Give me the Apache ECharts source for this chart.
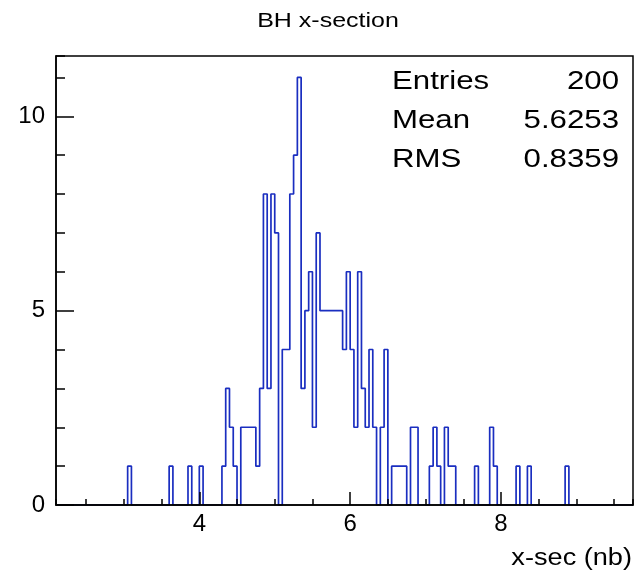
<!DOCTYPE html>
<html><head><meta charset="utf-8">
<script src="https://cdn.jsdelivr.net/npm/echarts@6/dist/echarts.min.js"></script>
<style>html,body{margin:0;padding:0;background:#fff}#c{width:635px;height:572px}</style>
</head><body><div id="c"></div>
<script>
// Histogram definition (ROOT-style TH1): 153 uniform bins of width 0.05 from 2.10 to 9.75
const xMin = 2.10, xMax = 9.75, nBins = 153;
// bin contents, bin 0 .. 152
const counts = [
 0,0,0,0,0,0,0,0,0,0,  0,0,0,0,0,0,0,0,0,1,   // 0-19
 0,0,0,0,0,0,0,0,0,0,  1,0,0,0,0,1,0,0,1,0,   // 20-39
 0,0,0,0,1,3,2,1,0,2,  2,2,2,1,3,8,3,8,7,0,   // 40-59
 4,4,8,9,11,3,5,6,2,7, 5,5,5,5,5,5,4,6,4,2,   // 60-79
 6,3,2,4,2,0,2,4,0,1,  1,1,1,0,2,2,0,0,0,1,   // 80-99
 2,1,0,2,1,1,0,0,0,0,  0,1,0,0,0,2,1,0,0,0,   // 100-119
 0,0,1,0,0,1,0,0,0,0,  0,0,0,0,0,1,0,0,0,0,   // 120-139
 0,0,0,0,0,0,0,0,0,0,  0,0,0                  // 140-152
];
const yMax = 11.55;
const titleText = 'BH x-section';
const xAxisTitle = 'x-sec (nb)';
const statNames = ['Entries', 'Mean', 'RMS'];
const statValues = ['200', '5.6253', '0.8359'];

const binW = (xMax - xMin) / nBins;
const pts = counts.map((c, i) => [xMin + i * binW, c]);
pts.push([xMax, counts[nBins - 1]]);

const FONT = 'Liberation Sans, Arial, Helvetica, sans-serif';
const chart = echarts.init(document.getElementById('c'), null, {renderer: 'canvas'});

const statGraphics = [];
statNames.forEach((n, i) => {
  const y = 82 + i * 39;
  statGraphics.push({type: 'text', z: 100, x: 392, y: y, scaleX: 1.2, scaleY: 1,
    style: {text: n, x: 0, y: 0, textAlign: 'left', textVerticalAlign: 'middle', font: '26px ' + FONT, fill: '#000'}});
  statGraphics.push({type: 'text', z: 100, x: 619, y: y, scaleX: 1.2, scaleY: 1,
    style: {text: statValues[i], x: 0, y: 0, textAlign: 'right', textVerticalAlign: 'middle', font: '26px ' + FONT, fill: '#000'}});
});

chart.setOption({
  animation: false,
  backgroundColor: '#fff',
  grid: {left: 56, top: 56, right: 2, bottom: 67, show: true, borderColor: '#000', borderWidth: 1.5, backgroundColor: 'transparent', z: 10},
  xAxis: [
    {type: 'value', min: xMin, max: xMax, splitNumber: 4, position: 'bottom', offset: 0, z: 10,
     axisLine: {show: true, lineStyle: {color: '#000', width: 1.5}},
     axisTick: {show: true, inside: true, length: 13, lineStyle: {color: '#000', width: 1.5}},
     axisLabel: {showMinLabel: false, showMaxLabel: false, fontSize: 24, color: '#000', margin: 7, fontFamily: FONT},
     splitLine: {show: false}},
    {type: 'value', min: xMin, max: xMax, splitNumber: 15, position: 'bottom', offset: 0, z: 10,
     axisLine: {show: false},
     axisTick: {show: true, inside: true, length: 6, lineStyle: {color: '#000', width: 1.5}},
     axisLabel: {show: false}, splitLine: {show: false}}
  ],
  yAxis: [
    {type: 'value', min: 0, max: yMax, interval: 5, position: 'left', offset: 0, z: 10,
     axisLine: {show: true, lineStyle: {color: '#000', width: 1.5}},
     axisTick: {show: true, inside: true, length: 18, lineStyle: {color: '#000', width: 1.5}},
     axisLabel: {showMaxLabel: false, fontSize: 24, color: '#000', margin: 11, fontFamily: FONT},
     splitLine: {show: false}},
    {type: 'value', min: 0, max: yMax, interval: 1, position: 'left', offset: 0, z: 10,
     axisLine: {show: false},
     axisTick: {show: true, inside: true, length: 9, lineStyle: {color: '#000', width: 1.5}},
     axisLabel: {show: false}, splitLine: {show: false}}
  ],
  graphic: [
    {type: 'text', z: 100, x: 328, y: 21, scaleX: 1.19, scaleY: 1,
     style: {text: titleText, x: 0, y: 0, textAlign: 'center', textVerticalAlign: 'middle', font: '21px ' + FONT, fill: '#000'}},
    {type: 'text', z: 100, x: 632, y: 559, scaleX: 1.18, scaleY: 1,
     style: {text: xAxisTitle, x: 0, y: 0, textAlign: 'right', textVerticalAlign: 'middle', font: '23px ' + FONT, fill: '#000'}}
  ].concat(statGraphics),
  series: [{
    type: 'line', xAxisIndex: 0, yAxisIndex: 0, data: pts, step: 'end', symbol: 'none',
    lineStyle: {color: '#1a2ec0', width: 1.7}, z: 2
  }]
});
</script></body></html>
